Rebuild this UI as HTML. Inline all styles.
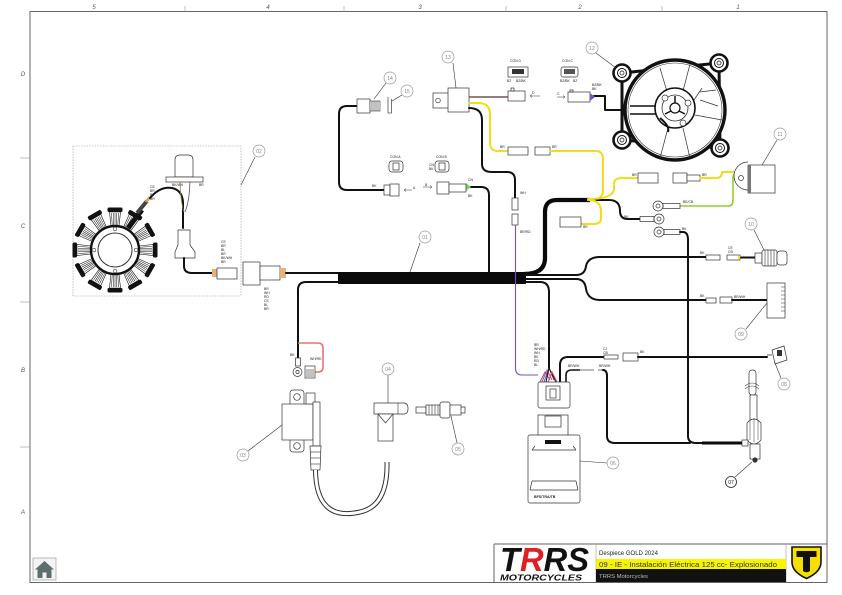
<!DOCTYPE html>
<html><head><meta charset="utf-8"><style>
html,body{margin:0;padding:0;background:#fff;width:842px;height:595px;overflow:hidden}
svg{display:block}
text{font-family:"Liberation Sans",sans-serif}
.wl{font-size:3.4px;fill:#222}
.lc{fill:#fff;stroke:#999;stroke-width:.7}
.lt{font-size:5px;fill:#888;text-anchor:middle}
.ld{stroke:#333;stroke-width:.6;fill:none}
.w{fill:none;stroke:#111;stroke-width:2;stroke-linecap:round;stroke-linejoin:round}
.y{fill:none;stroke:#f2dc1e;stroke-width:2;stroke-linecap:round;stroke-linejoin:round}
.p{fill:#fff;stroke:#333;stroke-width:.7}
</style></head><body>
<svg width="842" height="595" viewBox="0 0 842 595" xmlns="http://www.w3.org/2000/svg">
<defs>
<g id="coil">
<path d="M-4,-24 L-5.5,-38 H5.5 L4,-24 Z" fill="#fff" stroke="#111" stroke-width=".6"/>
<line x1="-3.5" y1="-37" x2="-2.8" y2="-25" stroke="#111" stroke-width=".5"/>
<line x1="-1.7" y1="-37" x2="-1.3" y2="-25" stroke="#111" stroke-width=".5"/>
<line x1="0" y1="-37" x2="0" y2="-25" stroke="#111" stroke-width=".5"/>
<line x1="1.7" y1="-37" x2="1.3" y2="-25" stroke="#111" stroke-width=".5"/>
<line x1="3.5" y1="-37" x2="2.8" y2="-25" stroke="#111" stroke-width=".5"/>
<rect x="-7.5" y="-42.5" width="15" height="4.5" rx="1.5" fill="#111"/>
</g>
<g id="lug">
<circle r="8.5" fill="#fff" stroke="#111" stroke-width="2.6"/>
<circle r="4.5" fill="#fff" stroke="#111" stroke-width="1"/>
<circle r="2" fill="#fff" stroke="#111" stroke-width=".7"/>
</g>
</defs>

<!-- frame -->
<rect x="30" y="11.5" width="797" height="571" fill="none" stroke="#666" stroke-width="1"/>
<g stroke="#999" stroke-width=".6">
<line x1="185" y1="6" x2="185" y2="11.5"/><line x1="344" y1="6" x2="344" y2="11.5"/>
<line x1="506" y1="6" x2="506" y2="11.5"/><line x1="662" y1="6" x2="662" y2="11.5"/>
<line x1="20" y1="158" x2="30" y2="158"/><line x1="20" y1="302" x2="30" y2="302"/>
<line x1="20" y1="447" x2="30" y2="447"/>
</g>
<g font-size="6" font-style="italic" fill="#555" text-anchor="middle">
<text x="94" y="9">5</text><text x="268" y="9">4</text><text x="420" y="9">3</text>
<text x="580" y="9">2</text><text x="738" y="9">1</text>
<text x="23" y="76">D</text><text x="23" y="228">C</text><text x="23" y="372">B</text><text x="23" y="514">A</text>
</g>

<!-- home icon -->
<rect x="33" y="558" width="23" height="22" fill="#f4f4f4" stroke="#aaa" stroke-width=".8"/>
<polygon points="44.5,561 54,569.5 35,569.5" fill="#5c6e6e"/>
<rect x="37.5" y="569" width="14" height="9" fill="#5c6e6e"/>
<rect x="42.5" y="572.5" width="4" height="5.5" fill="#f4f4f4"/>

<!-- title block -->
<line x1="494" y1="544" x2="827" y2="544" stroke="#666" stroke-width="1"/>
<line x1="494" y1="544" x2="494" y2="582" stroke="#666" stroke-width="1"/>
<line x1="596" y1="544" x2="596" y2="582" stroke="#999" stroke-width=".6"/>
<line x1="786" y1="544" x2="786" y2="582" stroke="#999" stroke-width=".6"/>
<rect x="596" y="559" width="190" height="10" fill="#f7f500"/>
<rect x="596" y="569" width="190" height="13" fill="#111"/>
<text x="599" y="555" font-size="6" fill="#222" textLength="59" lengthAdjust="spacingAndGlyphs">Despiece GOLD 2024</text>
<text x="599" y="567" font-size="7.5" fill="#333" textLength="178" lengthAdjust="spacingAndGlyphs">09 - IE - Instalación Eléctrica 125 cc- Explosionado</text>
<text x="599" y="578" font-size="5.5" fill="#bbb" textLength="49" lengthAdjust="spacingAndGlyphs">TRRS Motorcycles</text>
<text x="500" y="571" font-size="33" font-weight="bold" font-style="italic" fill="#111" textLength="89" lengthAdjust="spacingAndGlyphs">T<tspan fill="#e02020">R</tspan>RS</text>
<text x="500" y="580.5" font-size="8.5" font-weight="bold" font-style="italic" fill="#111" textLength="82" lengthAdjust="spacingAndGlyphs">MOTORCYCLES</text>
<path d="M792,547 H821 V562 Q821,572 806.5,578.5 Q792,572 792,562 Z" fill="#f5e000" stroke="#111" stroke-width="1.6"/>
<path d="M796.5,551 H816.5 V557 H810 V571 Q806.5,573.5 803,571 V557 H796.5 Z" fill="#111"/>

<!-- stator area -->
<rect x="73" y="146" width="168" height="150" fill="none" stroke="#999" stroke-width=".6" stroke-dasharray="1.5,1.2"/>
<g transform="translate(115,250)">
<use href="#coil" transform="rotate(0)"/><use href="#coil" transform="rotate(30)"/><use href="#coil" transform="rotate(60)"/>
<use href="#coil" transform="rotate(90)"/><use href="#coil" transform="rotate(120)"/><use href="#coil" transform="rotate(150)"/>
<use href="#coil" transform="rotate(180)"/><use href="#coil" transform="rotate(210)"/><use href="#coil" transform="rotate(240)"/>
<use href="#coil" transform="rotate(270)"/><use href="#coil" transform="rotate(300)"/><use href="#coil" transform="rotate(330)"/>
<circle r="24" fill="#fff" stroke="#111" stroke-width="2.4"/>
<circle r="17" fill="#fff" stroke="#333" stroke-width="1"/>
<circle cx="0" cy="-21" r="1.8" fill="#fff" stroke="#333" stroke-width=".6"/>
<circle cx="21" cy="0" r="1.8" fill="#fff" stroke="#333" stroke-width=".6"/>
<circle cx="0" cy="21" r="1.8" fill="#fff" stroke="#333" stroke-width=".6"/>
<circle cx="-21" cy="0" r="1.8" fill="#fff" stroke="#333" stroke-width=".6"/>
</g>
<path d="M128,228 L142,210" stroke="#111" stroke-width="5"/>
<path d="M137,213 L147,201" stroke="#444" stroke-width="4"/>
<path d="M146,202 L150,197" stroke="#d9a25a" stroke-width="3"/>
<path class="w" d="M150,198 Q160,186 172,188 Q182,190 183,202 V228"/>
<path d="M180,177 Q180,200 184,212" fill="none" stroke="#9a7b55" stroke-width=".8"/>
<path d="M190,177 Q190,200 185,212" fill="none" stroke="#555" stroke-width=".8"/>
<path d="M175,177 V160 Q175,155 180,155 H188 Q193,155 193,160 V177 Z" class="p"/>
<rect x="166" y="177" width="37" height="5" class="p"/>
<path d="M178,230 H190 V245 L195,252 V258 H175 V252 L178,245 Z" class="p"/>
<path class="w" d="M184,258 V266 Q184,273 192,273 H214"/>
<rect x="212" y="269" width="5" height="8" fill="#e8b27a"/>
<rect x="217" y="268" width="20" height="11" class="p"/>
<rect x="243" y="262" width="17" height="23" class="p"/>
<rect x="260" y="266" width="20" height="14" class="p"/>
<rect x="280" y="268" width="6" height="10" fill="#e8b27a"/>
<g class="wl"><text x="150" y="188">CE</text><text x="150" y="192">BR</text><text x="150" y="196">BL</text><text x="150" y="200">BR</text>
<text x="172" y="186">BK/WH</text><text x="199" y="186">BR</text>
<text x="221" y="243">CE</text><text x="221" y="247">BR</text><text x="221" y="251">BL</text><text x="221" y="255">BR</text><text x="221" y="259">BK/WH</text><text x="221" y="263">BR</text>
<text x="264" y="290">BR</text><text x="264" y="294">WH</text><text x="264" y="298">RD</text><text x="264" y="302">CE</text><text x="264" y="306">BL</text><text x="264" y="310">BR</text></g>

<!-- main harness -->
<path class="w" d="M286,273 H340"/>
<rect x="338" y="272" width="188" height="12" rx="1" fill="#0a0a0a"/>
<path class="w" d="M340,282 H306 Q298,282 298,290 V360"/>
<path d="M298,343 H318 Q323,343 323,348 V367 Q323,372 318,372 H314" fill="none" stroke="#ec7272" stroke-width="1.6"/>
<rect x="295.5" y="358" width="5" height="8" class="p"/>
<circle cx="297.5" cy="372" r="4.5" class="p" stroke-width="1"/>
<circle cx="297.5" cy="372" r="1.6" class="p"/>
<rect x="305" y="366" width="10" height="12" fill="#fff" stroke="#333" stroke-width=".7"/>
<g stroke="#333" stroke-width=".6"><line x1="306" y1="370" x2="314" y2="370"/><line x1="306" y1="372" x2="314" y2="372"/><line x1="306" y1="374" x2="314" y2="374"/><line x1="306" y1="376" x2="314" y2="376"/></g>
<g class="wl"><text x="290" y="356">BK</text><text x="310" y="360">WH/RD</text></g>

<!-- ignition coil 03 -->
<rect x="290" y="390" width="14" height="62" rx="3" class="p"/>
<circle cx="297" cy="397" r="3.3" class="p"/>
<circle cx="297" cy="446" r="3.3" class="p"/>
<rect x="282" y="404" width="31" height="36" class="p" stroke-width=".9"/>
<rect x="306" y="393" width="9" height="11" class="p"/>
<rect x="313" y="402" width="7" height="44" class="p"/>
<path d="M310,446 H321 L320,470 H311 Z" class="p"/>
<g stroke="#333" stroke-width=".6"><line x1="310.5" y1="452" x2="320.5" y2="452"/><line x1="310.5" y1="458" x2="320.5" y2="458"/><line x1="311" y1="464" x2="320" y2="464"/></g>
<path d="M315.5,470 Q316,522 360,512 Q388,506 387,462" fill="none" stroke="#333" stroke-width="5"/>
<path d="M315.5,470 Q316,522 360,512 Q388,506 387,462" fill="none" stroke="#fff" stroke-width="3"/>

<!-- spark cap 04 -->
<path d="M374,403 H404 Q408,403 408,408.5 Q408,414 404,414 H374 Z" class="p"/>
<line x1="398" y1="403" x2="398" y2="414" stroke="#333" stroke-width=".6"/>
<rect x="378" y="414" width="15" height="27" class="p"/>
<path d="M378,414 L385.5,423 L393,414" fill="none" stroke="#333" stroke-width=".7"/>
<!-- spark plug 05 -->
<rect x="416" y="407" width="10" height="6" class="p"/>
<rect x="426" y="405" width="14" height="10" class="p"/>
<g stroke="#333" stroke-width=".6"><line x1="429" y1="405" x2="429" y2="415"/><line x1="432" y1="405" x2="432" y2="415"/><line x1="435" y1="405" x2="435" y2="415"/><line x1="438" y1="405" x2="438" y2="415"/></g>
<rect x="440" y="402" width="10" height="16" rx="2" class="p" stroke-width=".9"/>
<rect x="450" y="405" width="11" height="10" class="p"/>
<path d="M461,407 H465 V413 H461" fill="none" stroke="#333" stroke-width=".7"/>

<!-- 14 / 15 sensor -->
<path class="w" d="M357,106 H347 Q339,106 339,114 V182 Q339,190 347,190 H384"/>
<rect x="357" y="99" width="13" height="14" class="p" stroke-width=".9"/>
<rect x="370" y="101" width="10" height="10" fill="#fff" stroke="#333" stroke-width=".6"/>
<g stroke="#333" stroke-width=".6"><line x1="372" y1="101" x2="372" y2="111"/><line x1="374" y1="101" x2="374" y2="111"/><line x1="376" y1="101" x2="376" y2="111"/><line x1="378" y1="101" x2="378" y2="111"/></g>
<path d="M388,97 V113 H391.5 V99" fill="none" stroke="#555" stroke-width=".8"/>
<rect x="384" y="185" width="6" height="10" class="p"/>
<rect x="390" y="184" width="9" height="12" class="p"/>
<path d="M404,190 H412 M404,190 l2,-1.5 M404,190 l2,1.5" stroke="#333" stroke-width=".5" fill="none"/>
<text class="wl" x="372" y="187">BK</text><text class="wl" x="413" y="189">A</text>
<!-- CON A / CON B icons -->
<text class="wl" x="390" y="158">CON A</text>
<rect x="389" y="161" width="14" height="11" rx="3" class="p"/><rect x="393" y="163" width="6" height="7" class="p"/>
<text class="wl" x="436" y="158">CON B</text>
<rect x="435" y="161" width="14" height="11" rx="3" class="p"/><rect x="439" y="163" width="6" height="7" class="p"/>
<text class="wl" x="429" y="166">CN</text><text class="wl" x="429" y="170">BK</text>

<!-- connector B wire -->
<path class="w" d="M489,272 V195 Q489,187 481,187 H470"/>
<polygon points="466,183 471,187 466,191" fill="#7cd46a"/>
<rect x="437" y="182" width="12" height="12" class="p"/>
<rect x="449" y="184" width="17" height="8" class="p"/>
<path d="M423,187 H432 M432,187 l-2,-1.5 M432,187 l-2,1.5" stroke="#333" stroke-width=".5" fill="none"/>
<text class="wl" x="425" y="186">B</text>
<g class="wl"><text x="468" y="181">CN</text><text x="468" y="197">BK</text></g>

<!-- relay 13 -->
<rect x="433" y="93" width="16" height="15" class="p"/>
<circle cx="438" cy="100.5" r="2.3" class="p"/>
<rect x="448" y="88" width="21" height="24" class="p" stroke-width=".9"/>
<path d="M469,97 H508" stroke="#6b5555" stroke-width="1.6"/>
<path class="w" d="M469,108 Q482,108 482,120 V164 Q482,172 492,172 H507 Q515,172 515,180 V198"/>
<path class="y" d="M469,103 H479 Q490,103 490,115 V143 Q490,151 498,151 H508"/>
<rect x="508" y="147" width="20" height="8" class="p"/>
<rect x="535" y="147" width="15" height="8" class="p"/>
<path class="y" d="M550,151 H596 Q603,151 603,160 V190 Q603,199 594,199 H588"/>
<rect x="508" y="91" width="17" height="10" class="p"/>
<rect x="511" y="88" width="3" height="3" class="p"/>
<path d="M530,96 H540 M530,96 l2,-1.5 M530,96 l2,1.5" stroke="#333" stroke-width=".5" fill="none"/>
<text class="wl" x="532" y="94">D</text>
<text class="wl" x="500" y="148">BR</text><text class="wl" x="552" y="148">BR</text>
<!-- relay to purple -->
<rect x="512" y="198" width="6" height="12" class="p"/>
<rect x="512" y="214" width="6" height="11" class="p"/>
<path d="M515.5,225 V368 Q515.5,375 522,375 H538" fill="none" stroke="#7a4fc9" stroke-width="1.1"/>
<g class="wl"><text x="520" y="194">WH</text><text x="520" y="233">BR/RD</text></g>
<!-- CON D / CON C -->
<text class="wl" x="510" y="62">CON D</text>
<rect x="508" y="67" width="20" height="10" class="p"/><rect x="512" y="69" width="12" height="5" fill="#333"/>
<text class="wl" x="507" y="82">BZ</text><text class="wl" x="516" y="82">BZ/BK</text>
<text class="wl" x="562" y="62">CON C</text>
<rect x="561" y="67" width="17" height="10" rx="2" class="p"/><rect x="564" y="69" width="11" height="5" fill="#555"/>
<text class="wl" x="560" y="82">BZ/BK</text><text class="wl" x="573" y="82">BZ</text>

<!-- fan 12 -->
<path class="w" d="M594,96 H605 V110 H626" stroke-width="2.6"/>
<rect x="568" y="92" width="22" height="10" class="p"/>
<rect x="570" y="90" width="3" height="2" class="p"/>
<polygon points="590,93 595,97 590,101" fill="#7a4fc9"/>
<path d="M557,97 H565 M565,97 l-2,-1.5 M565,97 l-2,1.5" stroke="#333" stroke-width=".5" fill="none"/>
<text class="wl" x="557" y="95">C</text><text class="wl" x="592" y="86">BZ/BK</text><text class="wl" x="592" y="90">BK</text>
<path d="M622,73 L719,63 L720,148 L622,140 Z" fill="#fff" stroke="#111" stroke-width="3" stroke-linejoin="round"/>
<use href="#lug" x="622" y="73"/><use href="#lug" x="719" y="63"/>
<use href="#lug" x="622" y="140"/><use href="#lug" x="720" y="148"/>
<circle cx="675" cy="110" r="50" fill="#fff" stroke="#111" stroke-width="3.4"/>
<circle cx="675" cy="110" r="47" fill="none" stroke="#333" stroke-width=".6"/>
<path d="M660,68 L668,95 M690,64 L682,95 M702,88 L692,103 M722,120 L695,115 M690,158 L683,128 M660,158 L668,128" stroke="#333" stroke-width=".7"/>
<path d="M630,106 H660 M630,114 H660" stroke="#111" stroke-width="1.5"/>
<path d="M700,92 L716,90 M700,100 L718,106" stroke="#333" stroke-width=".8"/>
<circle cx="675" cy="108" r="20" fill="#fff" stroke="#111" stroke-width="1.6"/>
<circle cx="675" cy="108" r="13" fill="none" stroke="#333" stroke-width=".8"/>
<circle cx="675" cy="108" r="5" fill="#fff" stroke="#111" stroke-width="1.2"/>
<path d="M675,96 V103 M665,114 L671,111 M685,114 L679,111" stroke="#111" stroke-width="1.5"/>
<circle cx="665" cy="98" r="3" class="p"/><circle cx="688" cy="103" r="3" class="p"/><circle cx="683" cy="123" r="3" class="p"/>
<path d="M660,118 Q670,126 668,132" stroke="#111" stroke-width="2" fill="none"/>

<!-- thick black from bar -->
<path d="M524,274 Q545,274 545,258 V212 Q545,200 557,200 H590" fill="none" stroke="#0a0a0a" stroke-width="4.2"/>
<path class="w" d="M588,200 H609 Q620,200 620,211 Q620,219 628,219 H640"/>
<path class="y" d="M588,200 Q600,200 601,210 V218 Q601,224 594,224 H581"/>
<rect x="560" y="217" width="21" height="10" class="p"/>
<text class="wl" x="583" y="228">BR</text>
<path class="y" d="M588,199 Q612,199 614,190 V184 Q614,178 622,178 H638"/>
<rect x="638" y="173" width="20" height="10" class="p"/>
<rect x="673" y="173" width="14" height="10" class="p"/>
<rect x="687" y="175" width="13" height="6" class="p"/>
<path class="y" d="M700,178 H716 Q722,178 722,172 H748"/>
<path d="M680,206 H728 Q733,206 733,200 V178 Q733,172 740,172 H750" fill="none" stroke="#8ed12f" stroke-width="1.6"/>
<text class="wl" x="632" y="176">BR</text><text class="wl" x="702" y="176">BR</text><text class="wl" x="683" y="203">BE/CB</text><text class="wl" x="624" y="218">BK</text><text class="wl" x="682" y="230">BK</text>
<!-- component 11 -->
<path d="M748,162 A14,14 0 0 0 748,190" class="p"/>
<rect x="748" y="165" width="27" height="28" class="p"/>
<rect x="748" y="165" width="3" height="28" fill="#777"/>
<circle cx="741" cy="178" r="2.5" class="p"/>
<!-- ring terminals -->
<rect x="663" y="203.5" width="17" height="5" class="p"/>
<circle cx="658" cy="206" r="5" class="p" stroke-width="1"/><circle cx="658" cy="206" r="2" class="p"/>
<rect x="640" y="216.5" width="14" height="5" class="p"/>
<circle cx="659" cy="219" r="5" class="p" stroke-width="1"/><circle cx="659" cy="219" r="2" class="p"/>
<rect x="664" y="229.5" width="16" height="5" class="p"/>
<circle cx="659" cy="232" r="5" class="p" stroke-width="1"/><circle cx="659" cy="232" r="2" class="p"/>
<path class="w" d="M680,232 H683 Q688,232 688,240 V436 Q688,443 696,443 H702"/>
<path d="M702,443 H742" stroke="#0a0a0a" stroke-width="3"/>

<!-- right branches -->
<path class="w" d="M526,275 H576 Q585,275 586,266 Q588,257 600,257 H706"/>
<path class="w" d="M526,279 H576 Q585,279 586,289 Q588,300 600,300 H706"/>
<path class="w" d="M526,282 H540 Q549,282 549,292 V368"/>
<rect x="706" y="255" width="14" height="5" class="p"/>
<rect x="727" y="255" width="13" height="5" class="p"/>
<rect x="738" y="256" width="3" height="3" fill="#f2dc1e"/>
<path class="w" d="M741,257.5 H755" stroke-width="1.4"/>
<rect x="755" y="253" width="7" height="10" class="p"/>
<rect x="762" y="250" width="15" height="16" rx="2" class="p" stroke-width=".9"/>
<g stroke="#333" stroke-width=".6"><line x1="765" y1="250" x2="765" y2="266"/><line x1="768" y1="250" x2="768" y2="266"/><line x1="771" y1="250" x2="771" y2="266"/><line x1="774" y1="250" x2="774" y2="266"/></g>
<rect x="777" y="251" width="10" height="14" rx="3" class="p"/>
<text class="wl" x="700" y="254">BK</text><text class="wl" x="728" y="249">CE</text><text class="wl" x="728" y="253">CB</text>
<rect x="706" y="298" width="10" height="5" class="p"/>
<rect x="720" y="297" width="12" height="6" class="p"/>
<path class="w" d="M732,300 H767" stroke-width="1.4"/>
<rect x="767" y="283" width="18" height="35" class="p" stroke-width=".9"/>
<g stroke="#333" stroke-width=".5"><line x1="781" y1="287" x2="785" y2="287"/><line x1="781" y1="291" x2="785" y2="291"/><line x1="781" y1="295" x2="785" y2="295"/><line x1="781" y1="299" x2="785" y2="299"/><line x1="781" y1="303" x2="785" y2="303"/><line x1="781" y1="307" x2="785" y2="307"/><line x1="781" y1="311" x2="785" y2="311"/></g>
<text class="wl" x="700" y="297">BK</text><text class="wl" x="734" y="298">BR/WH</text>

<!-- ECU area -->
<g fill="none" stroke-width="1">
<path d="M540,382 L545,372 L550,380" stroke="#7a4fc9"/>
<path d="M542,382 L547,370 L552,380" stroke="#e04848"/>
<path d="M544,382 L549,368 L554,380" stroke="#3a5bd8"/>
<path d="M546,382 L549,368 L556,382" stroke="#111"/>
<path d="M548,382 L552,372 L557,382" stroke="#e04848"/>
</g>
<g class="wl"><text x="534" y="346">BR</text><text x="534" y="350">WH/RD</text><text x="534" y="354">WH</text><text x="534" y="358">BK</text><text x="534" y="362">RD</text><text x="534" y="366">BL</text></g>
<path class="w" d="M560,382 V365 Q560,357 568,357 H604"/>
<rect x="604" y="355" width="14" height="4" class="p"/>
<rect x="623" y="353" width="15" height="8" class="p"/>
<path class="w" d="M638,357 H767"/>
<path d="M566,382 V375 Q566,370 572,370 H580" fill="none" stroke="#111" stroke-width="1.6"/>
<path d="M580,370 H594 M598,370 H603" stroke="#bbb" stroke-width="2"/>
<path class="w" d="M603,370 Q607,370 607,376 V436 Q607,443 615,443 H690"/>
<g class="wl"><text x="603" y="350">CJ</text><text x="603" y="354">CB</text><text x="640" y="353">BK</text><text x="568" y="367">BR/WH</text><text x="599" y="367">BR/WH</text></g>
<rect x="538" y="382" width="32" height="26" rx="2" class="p" stroke-width=".9"/>
<rect x="546" y="386" width="14" height="14" class="p"/>
<rect x="550" y="389" width="6" height="9" class="p"/>
<rect x="538" y="415" width="30" height="21" class="p"/>
<rect x="545" y="416" width="16" height="11" class="p"/>
<rect x="528" y="435" width="52" height="68" rx="2" class="p" stroke-width=".9"/>
<rect x="545" y="440" width="16" height="4" fill="#111"/>
<path d="M532,450 H576 M532,450 L535,446 M576,450 L573,446 M532,481 H576 M532,481 L530,490 M576,481 L578,490 M530,490 H578" stroke="#333" stroke-width=".7" fill="none"/>
<text x="534" y="498" font-size="3.6" font-weight="bold" fill="#222">BFS/TRA/TB</text>

<!-- 07 sensor -->
<rect x="749" y="370" width="7" height="25" rx="3" class="p"/>
<path d="M745,386 Q752,380 759,386 M745,389 Q752,383 759,389" fill="none" stroke="#333" stroke-width=".6"/>
<rect x="750" y="395" width="7" height="25" class="p"/>
<path d="M747,423 Q754,415 761,423 V440 Q754,448 747,440 Z" class="p" stroke-width=".9"/>
<g stroke="#333" stroke-width=".5"><line x1="750" y1="420" x2="750" y2="440"/><line x1="754" y1="418" x2="754" y2="442"/><line x1="758" y1="420" x2="758" y2="440"/></g>
<rect x="742" y="440" width="6" height="6" class="p"/>
<rect x="750" y="444" width="10" height="15" class="p"/>
<circle cx="755" cy="460" r="2.6" fill="#333"/>
<!-- 08 switch -->
<path d="M767,355 H772" stroke="#333" stroke-width=".8"/>
<path d="M772,350 L784,346 L787,360 L775,364 Z" class="p" stroke-width=".9"/>
<rect x="777" y="350" width="5" height="6" fill="#333"/>

<!-- labels -->
<g>
<path class="ld" d="M420,243 L410,272"/><circle class="lc" cx="425" cy="237" r="6"/><text class="lt" x="425" y="239">01</text>
<path class="ld" d="M255,157 L241,185"/><circle class="lc" cx="259" cy="151" r="6"/><text class="lt" x="259" y="153">02</text>
<path class="ld" d="M248,451 L282,425"/><circle class="lc" cx="243" cy="455" r="6"/><text class="lt" x="243" y="457">03</text>
<path class="ld" d="M388,375 L388,403"/><circle class="lc" cx="388" cy="369" r="6"/><text class="lt" x="388" y="371">04</text>
<path class="ld" d="M457,443 L451,416"/><circle class="lc" cx="458" cy="449" r="6"/><text class="lt" x="458" y="451">05</text>
<path class="ld" d="M607,463 L580,461"/><circle class="lc" cx="613" cy="463" r="6"/><text class="lt" x="613" y="465">06</text>
<path class="ld" d="M735,477 L752,462"/><circle cx="731" cy="482" r="5.5" fill="#fff" stroke="#222" stroke-width=".8"/><text x="731" y="484" font-size="5" fill="#222" text-anchor="middle">07</text>
<path class="ld" d="M781,378 L775,363"/><circle class="lc" cx="784" cy="384" r="6"/><text class="lt" x="784" y="386">08</text>
<path class="ld" d="M746,329 L767,303"/><circle class="lc" cx="741" cy="334" r="6"/><text class="lt" x="741" y="336">09</text>
<path class="ld" d="M754,230 L764,250"/><circle class="lc" cx="751" cy="224" r="6"/><text class="lt" x="751" y="226">10</text>
<path class="ld" d="M777,140 L762,165"/><circle class="lc" cx="780" cy="134" r="6"/><text class="lt" x="780" y="136">11</text>
<path class="ld" d="M596,53 L616,68"/><circle class="lc" cx="592" cy="48" r="6"/><text class="lt" x="592" y="50">12</text>
<path class="ld" d="M453,63 L456,88"/><circle class="lc" cx="448" cy="57" r="6"/><text class="lt" x="448" y="59">13</text>
<path class="ld" d="M386,83 L374,99"/><circle class="lc" cx="390" cy="78" r="6"/><text class="lt" x="390" y="80">14</text>
<path class="ld" d="M402,95 L392,101"/><circle class="lc" cx="407" cy="91" r="6"/><text class="lt" x="407" y="93">15</text>
</g>
</svg>
</body></html>
